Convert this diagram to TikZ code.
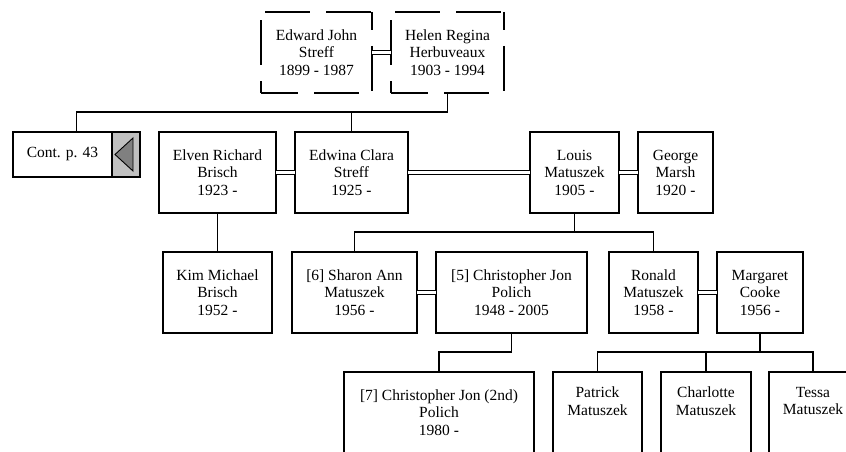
\documentclass[tikz,border=0pt]{standalone}
\usepackage{fontspec}
\setmainfont{Liberation Serif}
\usepackage{tikz}
\usetikzlibrary{positioning,calc}
\definecolor{tabgrey}{HTML}{C0C0C0}
\definecolor{tipgrey}{HTML}{808080}
\newcommand{\famframe}[1]{%
  \draw[famside, dash phase=57pt] (#1.north west) -- (#1.north east);
  \draw[famside, dash phase=27pt] (#1.north east) -- (#1.south east);
  \draw[famside, dash phase=8pt] (#1.south west) -- (#1.south east);
  \draw[famside, dash phase=33pt] (#1.south west) -- (#1.north west);}
\tikzset{
  person/.style={rectangle, draw=black, line width=1.6pt, fill=white, align=center,
                 inner sep=0pt, outer sep=0pt, minimum height=81pt},
  famhead/.style={person, draw=none},
  famside/.style={line width=1.3pt, dash pattern=on 45pt off 16pt},
  contbox/.style={person, minimum width=127pt, minimum height=45pt},
  tabbox/.style={rectangle, draw=black, line width=1.6pt, fill=tabgrey, inner sep=0pt,
                 outer sep=0pt, minimum width=28pt, minimum height=45pt},
  tip/.style={draw=black, line width=0.9pt, fill=tipgrey, line join=miter},
  wed/.style={double, double distance=3.5pt, line width=1.1pt},
  kin/.style={line width=1.6pt}
}
\begin{document}
\begin{tikzpicture}[x=1pt, y=1pt, font=\fontsize{15.5}{17.5}\selectfont]
 \clip (0,0) rectangle (846,451);
 \node[famhead, anchor=north west, minimum width=111pt] (edward) at (261,439) {Edward John\\Streff\\1899 - 1987};
 \node[famhead, right=19pt of edward, minimum width=113pt] (helen) {Helen Regina\\Herbuveaux\\1903 - 1994};
 \famframe{edward}\famframe{helen}

 \node[contbox, anchor=north west] (cont) at (13,319) {};
 \node[anchor=center] (contlbl) at ($(cont.west)+(49.5,0)$) {Cont. p. 43};
 \node[tabbox, anchor=east] (tab) at (cont.east) {};
 \draw[tip] ([xshift=-11pt]tab.center) -- ++(18pt,16.5pt) -- ++(0,-33pt) -- cycle;

 \node[person, anchor=north west, minimum width=117pt] (elven) at (159,319) {Elven Richard\\Brisch\\1923 -};
 \node[person, right=19pt of elven, minimum width=113pt] (edwina) {Edwina Clara\\Streff\\1925 -};
 \node[person, right=122pt of edwina, minimum width=89pt] (louis) {Louis\\Matuszek\\1905 -};
 \node[person, right=19pt of louis, minimum width=75pt] (george) {George\\Marsh\\1920 -};

 \node[person, anchor=north west, minimum width=109pt] (kim) at (163,199) {Kim Michael\\Brisch\\1952 -};
 \node[person, right=20pt of kim, minimum width=125pt] (sharon) {[6] Sharon Ann\\Matuszek\\1956 -};
 \node[person, right=19pt of sharon, minimum width=151pt] (chris) {[5] Christopher Jon\\Polich\\1948 - 2005};
 \node[person, right=22pt of chris, minimum width=89pt] (ronald) {Ronald\\Matuszek\\1958 -};
 \node[person, right=19pt of ronald, minimum width=86pt] (margaret) {Margaret\\Cooke\\1956 -};

 \node[person, anchor=north west, minimum width=190pt] (chrisjr) at (344,79) {[7] Christopher Jon (2nd)\\Polich\\1980 -};
 \node[person, right=19pt of chrisjr, minimum width=89pt] (patrick) {Patrick\\Matuszek\\\strut};
 \node[person, right=19pt of patrick, minimum width=90pt] (charlotte) {Charlotte\\Matuszek\\\strut};
 \node[person, right=18pt of charlotte, minimum width=88pt] (tessa) {Tessa\\Matuszek\\\strut};

 \coordinate (hbus) at ($(helen.south)+(0,-19)$);
 \coordinate (lbus) at ($(louis.south)+(0,-19)$);
 \coordinate (cbus) at ($(chris.south)+(0,-19)$);
 \coordinate (mbus) at ($(margaret.south)+(0,-19)$);

 \draw[wed](edward)--(helen);\draw[wed](elven)--(edwina);\draw[wed](edwina)--(louis);\draw[wed](louis)--(george);
 \draw[wed](sharon)--(chris);\draw[wed](ronald)--(margaret);
 \draw[kin](helen.south)--(hbus)-|(cont.north);\draw[kin](hbus)-|(edwina.north);
 \draw[kin](elven)--(kim);
 \draw[kin](louis.south)--(lbus)-|(sharon.north);\draw[kin](lbus)-|(ronald.north);
 \draw[kin](chris.south)--(cbus)-|(chrisjr.north);
 \draw[kin](margaret.south)--(mbus)-|(patrick.north);\draw[kin](mbus)-|(charlotte.north);\draw[kin](mbus)-|(tessa.north);
\end{tikzpicture}
\end{document}
